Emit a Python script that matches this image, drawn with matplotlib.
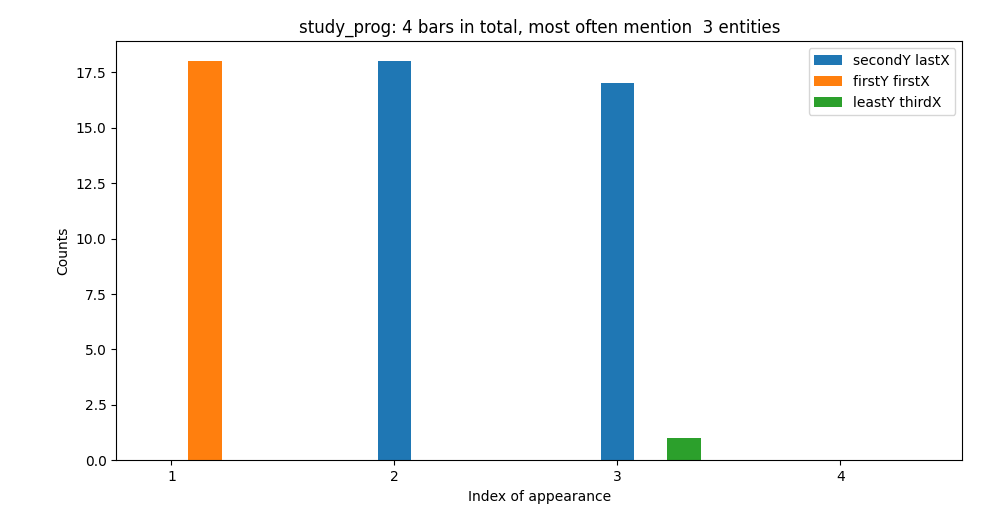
import matplotlib
matplotlib.use("Agg")
import matplotlib.pyplot as plt
import numpy as np

positions = [1, 2, 3, 4]
series_labels = ["secondY lastX", "firstY firstX", "leastY thirdX"]
second_y = [0, 18, 17, 0]
first_y = [18, 0, 0, 0]
least_y = [0, 0, 1, 0]

width = 0.15
x = np.array(positions)

fig = plt.figure(figsize=(9.91, 5.24), dpi=100)
ax = fig.add_axes([116.3 / 991, 1 - 460.3 / 524, (962.3 - 116.3) / 991, (460.3 - 41.3) / 524])

for i, (vals, label) in enumerate(zip([second_y, first_y, least_y], series_labels)):
    ax.bar(x + i * width, vals, width=width, label=label)

ax.set_xticks(positions)
ax.set_xlabel("Index of appearance")
ax.set_ylabel("Counts")
ax.set_title("study_prog: 4 bars in total, most often mention  3 entities")
ax.legend(loc="upper right")

fig.savefig("out.png", dpi=100)
